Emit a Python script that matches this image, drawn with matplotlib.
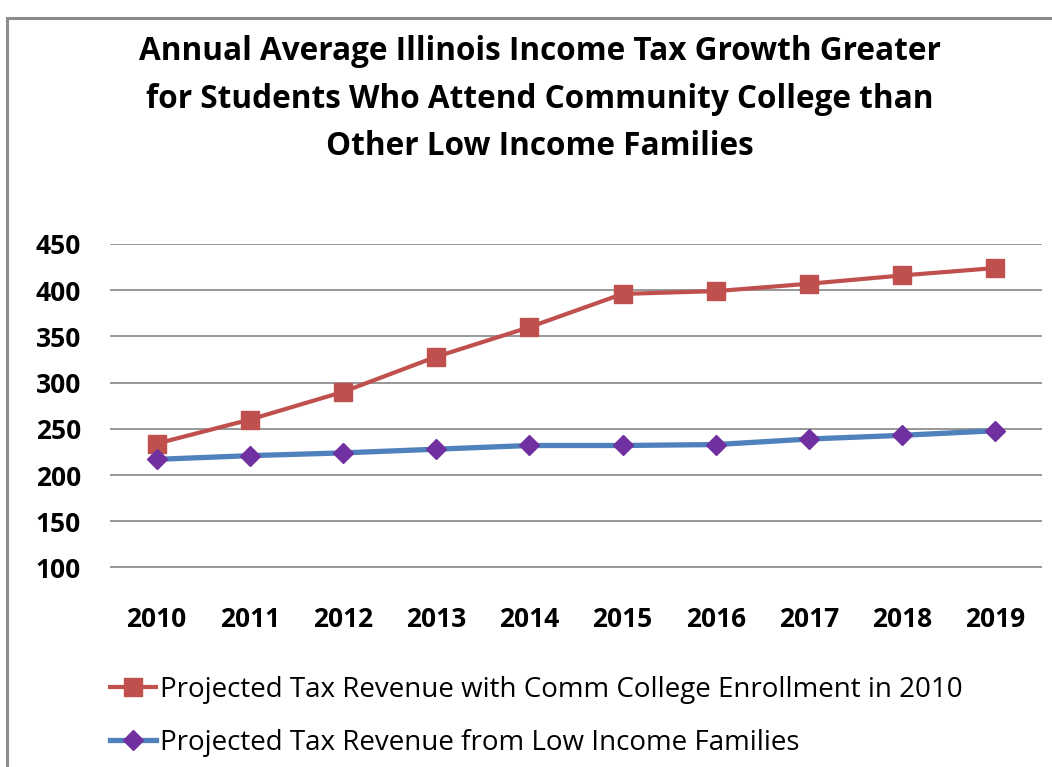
import matplotlib
matplotlib.use('Agg')
import matplotlib.pyplot as plt
from matplotlib.patches import Rectangle

years = ['2010', '2011', '2012', '2013', '2014', '2015', '2016', '2017', '2018', '2019']
comm_college = [234, 260, 290, 328, 360, 396, 399, 407, 416, 424]
low_income = [217, 221, 224, 228, 232, 232, 233, 239, 243, 248]

title = ('Annual Average Illinois Income Tax Growth Greater\n'
         'for Students Who Attend Community College than\n'
         'Other Low Income Families')
label_cc = 'Projected Tax Revenue with Comm College Enrollment in 2010'
label_li = 'Projected Tax Revenue from Low Income Families'


def main():
    plt.rcParams['font.family'] = ['Open Sans', 'DejaVu Sans']
    fig = plt.figure(figsize=(10.52, 7.67), dpi=100)
    ax = fig.add_axes([110 / 1052, 1 - 567.5 / 767, 932 / 1052, (567.5 - 244) / 767])

    x = list(range(len(years)))
    ax.plot(x, comm_college, color='#C0504D', lw=3, marker='s', ms=13,
            mec='#C0504D', mfc='#C0504D', label=label_cc, zorder=3)
    ax.plot(x, low_income, color='#4F81BD', lw=3.8, marker='D', ms=10,
            mec='#7030A0', mfc='#7030A0', label=label_li, zorder=3)

    ax.set_xlim(-0.5, len(years) - 0.5)
    ax.set_ylim(100, 450)
    ax.set_yticks(range(100, 451, 50))
    ax.set_xticks(x)
    ax.set_xticklabels(years)
    ax.grid(axis='y', color='#868686', lw=1.2)
    ax.set_axisbelow(True)
    for s in ax.spines.values():
        s.set_visible(False)
    ax.tick_params(length=0, labelsize=19)
    ax.tick_params(axis='x', pad=28)
    ax.tick_params(axis='y', pad=21)
    for t in ax.get_xticklabels() + ax.get_yticklabels():
        t.set_fontweight('bold')

    fig.text(540 / 1052, 1 - 99 / 767, title, ha='center', va='center',
             fontsize=22.7, fontweight='bold', linespacing=1.57)

    leg = ax.legend(loc='upper left', bbox_to_anchor=(110 / 1052, 1 - 676 / 767),
                    bbox_transform=fig.transFigure, frameon=False, fontsize=20,
                    handlelength=1.65, handletextpad=0.15, labelspacing=0.9,
                    borderpad=0, borderaxespad=0)

    fig.patches.append(Rectangle((7 / 1052, -0.1), 1.2, 1.088 - 9 / 767 + 0.0,
                                 transform=fig.transFigure, fill=False,
                                 ec='#8c8c8c', lw=2.2))
    fig.savefig('out.png', dpi=100)


if __name__ == '__main__':
    main()
